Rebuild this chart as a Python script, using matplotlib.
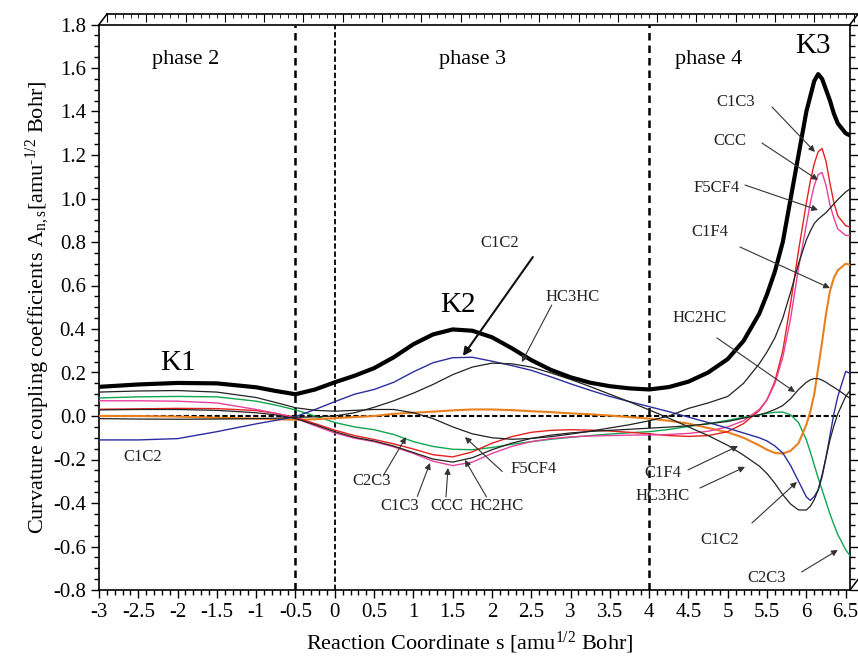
import matplotlib
matplotlib.use('Agg')
import matplotlib.pyplot as plt
from matplotlib.lines import Line2D
from matplotlib.ticker import MultipleLocator, FuncFormatter

plt.rcParams['font.family'] = 'Liberation Serif'
plt.rcParams['mathtext.fontset'] = 'custom'
plt.rcParams['mathtext.rm'] = 'Liberation Serif'
plt.rcParams['mathtext.it'] = 'Liberation Serif:italic'

# reaction coordinate s [amu^1/2 Bohr]
s = [-3, -2.5, -2, -1.5, -1, -0.75, -0.5, -0.25, 0, 0.25, 0.5, 0.75, 1, 1.25,
     1.5, 1.75, 2, 2.25, 2.5, 2.75, 3, 3.25, 3.5, 3.75, 4, 4.25, 4.5, 4.75, 5,
     5.2, 5.4, 5.5, 5.6, 5.7, 5.8, 5.9, 6.0, 6.05, 6.1, 6.15, 6.2, 6.25, 6.3,
     6.35, 6.4, 6.5, 6.56]

# total curvature (thick line, K1 / K2 / K3)
total = [0.134, 0.145, 0.152, 0.150, 0.132, 0.115, 0.100, 0.122, 0.155, 0.185,
         0.220, 0.270, 0.330, 0.375, 0.398, 0.392, 0.362, 0.312, 0.257, 0.212,
         0.178, 0.153, 0.137, 0.127, 0.122, 0.133, 0.158, 0.200, 0.262, 0.345,
         0.470, 0.560, 0.665, 0.800, 1.000, 1.200, 1.400, 1.470, 1.540, 1.572,
         1.550, 1.500, 1.450, 1.390, 1.345, 1.300, 1.289]

c1c2 = [-0.110, -0.110, -0.104, -0.072, -0.036, -0.020, -0.003, 0.030, 0.066,
        0.100, 0.122, 0.155, 0.203, 0.245, 0.268, 0.270, 0.252, 0.232, 0.210,
        0.180, 0.148, 0.118, 0.090, 0.066, 0.043, 0.020, -0.005, -0.030, -0.056,
        -0.078, -0.100, -0.115, -0.138, -0.170, -0.228, -0.300, -0.372, -0.388,
        -0.370, -0.340, -0.280, -0.190, -0.090, 0.010, 0.090, 0.205, 0.195]

hc3hc = [-0.012, -0.014, -0.015, -0.014, -0.012, -0.010, -0.006, -0.004, 0.000,
         0.015, 0.040, 0.070, 0.105, 0.145, 0.190, 0.225, 0.243, 0.240, 0.225,
         0.198, 0.168, 0.135, 0.100, 0.065, 0.028, -0.010, -0.050, -0.090, -0.135,
         -0.180, -0.230, -0.265, -0.310, -0.362, -0.405, -0.432, -0.432, -0.415,
         -0.385, -0.340, -0.270, -0.190, -0.110, -0.045, 0.010, 0.090, 0.120]

f5cf4 = [0.110, 0.115, 0.117, 0.110, 0.085, 0.062, 0.038, 0.026, 0.022, 0.026,
         0.030, 0.030, 0.015, -0.012, -0.050, -0.082, -0.100, -0.107, -0.103,
         -0.095, -0.083, -0.070, -0.055, -0.040, -0.022, 0.000, 0.035, 0.060,
         0.090, 0.150, 0.240, 0.295, 0.360, 0.450, 0.570, 0.700, 0.810, 0.850,
         0.885, 0.905, 0.920, 0.935, 0.955, 0.975, 0.995, 1.030, 1.045]

hc2hc = [0.028, 0.030, 0.030, 0.026, 0.015, 0.005, -0.012, -0.040, -0.072,
         -0.098, -0.115, -0.138, -0.168, -0.198, -0.212, -0.192, -0.155, -0.125,
         -0.103, -0.088, -0.078, -0.071, -0.066, -0.061, -0.056, -0.051, -0.045,
         -0.036, -0.025, -0.010, 0.005, 0.016, 0.030, 0.048, 0.080, 0.122, 0.155,
         0.166, 0.172, 0.172, 0.165, 0.155, 0.143, 0.132, 0.120, 0.095, 0.080]

c1c3 = [0.031, 0.033, 0.035, 0.034, 0.025, 0.012, -0.006, -0.035, -0.065,
        -0.090, -0.108, -0.128, -0.152, -0.178, -0.188, -0.165, -0.125, -0.095,
        -0.075, -0.066, -0.063, -0.065, -0.069, -0.075, -0.082, -0.090, -0.094,
        -0.090, -0.072, -0.035, 0.025, 0.075, 0.160, 0.300, 0.520, 0.760, 0.980,
        1.080, 1.160, 1.215, 1.230, 1.170, 1.070, 0.980, 0.920, 0.875, 0.868]

ccc = [0.070, 0.070, 0.068, 0.060, 0.030, 0.012, -0.010, -0.045, -0.078,
       -0.102, -0.118, -0.142, -0.172, -0.208, -0.228, -0.212, -0.172, -0.140,
       -0.118, -0.104, -0.096, -0.092, -0.090, -0.088, -0.087, -0.085, -0.080,
       -0.070, -0.050, -0.022, 0.030, 0.075, 0.150, 0.270, 0.450, 0.680, 0.880,
       0.980, 1.060, 1.110, 1.120, 1.060, 0.970, 0.910, 0.860, 0.830, 0.830]

c2c3 = [0.083, 0.088, 0.090, 0.088, 0.068, 0.050, 0.028, 0.000, -0.030,
        -0.050, -0.063, -0.085, -0.118, -0.140, -0.153, -0.155, -0.145, -0.130,
        -0.118, -0.107, -0.098, -0.090, -0.083, -0.077, -0.072, -0.062, -0.048,
        -0.035, -0.020, -0.006, 0.006, 0.012, 0.017, 0.018, 0.005, -0.030,
        -0.110, -0.165, -0.225, -0.285, -0.340, -0.395, -0.450, -0.500, -0.545,
        -0.615, -0.645]

c1f4 = [0.000, 0.000, -0.003, -0.008, -0.012, -0.015, -0.017, -0.015, -0.010,
        -0.005, 0.000, 0.010, 0.015, 0.020, 0.026, 0.030, 0.030, 0.027, 0.022,
        0.018, 0.012, 0.008, 0.002, -0.005, -0.012, -0.022, -0.035, -0.055,
        -0.075, -0.100, -0.135, -0.155, -0.170, -0.173, -0.160, -0.125, -0.040,
        0.020, 0.100, 0.220, 0.340, 0.470, 0.575, 0.635, 0.670, 0.700, 0.695]

# (series, colour, width)
curves = [
    (c2c3, '#10a550', 1.0),
    (c1f4, '#e8801e', 1.5),
    (c1c3, '#e62020', 1.0),
    (ccc, '#e8409c', 1.0),
    (c1c2, '#2c2ea0', 1.0),
    (hc3hc, '#222222', 0.9),
    (hc2hc, '#222222', 0.9),
    (f5cf4, '#222222', 0.9),
]

fig = plt.figure(figsize=(8.58, 6.58), dpi=100)
L, B, W, H = 99 / 858, 1 - 590 / 658, 751 / 858, 565.5 / 658
ax = fig.add_axes([L, B, W, H])

for ys, col, lw in curves:
    ax.plot(s, ys, color=col, lw=lw, zorder=3)
ax.plot(s, total, color='k', lw=3.0, zorder=4, solid_capstyle='round')

# zero line and phase borders
ax.hlines(0, -3, 6.43, colors='k', lw=1.5, linestyles=(0, (2.5, 1.2)), zorder=2)
ax.axvline(-0.5, color='k', lw=1.8, ls=(0, (3, 2)), zorder=2)
ax.axvline(0, color='k', lw=1.3, ls=(0, (3, 1.5)), zorder=2)
ax.axvline(4, color='k', lw=1.8, ls=(0, (3, 2)), zorder=2)

ax.set_xlim(-3, 6.555)
ax.set_ylim(-0.8, 1.8)
ax.xaxis.set_major_locator(MultipleLocator(0.5))
ax.xaxis.set_minor_locator(MultipleLocator(0.1))
ax.yaxis.set_major_locator(MultipleLocator(0.2))
ax.yaxis.set_minor_locator(MultipleLocator(0.05))
ax.xaxis.set_major_formatter(FuncFormatter(lambda v, _: f'{v:g}'))
ax.yaxis.set_major_formatter(
    FuncFormatter(lambda v, _: '0.0' if abs(v) < 1e-9 else f'{v:.1f}'))
ax.tick_params(which='both', direction='out', top=False, right=True,
               labelsize=15, width=1)
ax.tick_params(which='major', length=6)
ax.tick_params(which='minor', length=3.5)
for sp in ax.spines.values():
    sp.set_linewidth(1.2)

ax.set_xlabel('Reaction Coordinate s [amu$^{\\mathrm{1/2}}$ Bohr]', fontsize=16)
ax.xaxis.set_label_coords(0.494, -0.07)
ax.set_ylabel('Curvature coupling coefficients A$_{\\mathrm{n,s}}$'
              '[amu$^{\\mathrm{\\text{-}1/2}}$ Bohr]', fontsize=16)
ax.yaxis.set_label_coords(-0.063, 0.5)

# offset frame giving the box its depth
dx, dy = 8 / 858, 10.5 / 658
ax2 = fig.add_axes([L + dx, B + dy, W, H], facecolor='none', zorder=-1)
ax2.set_xlim(ax.get_xlim())
ax2.set_yticks([])
for side in ('left', 'bottom', 'right'):
    ax2.spines[side].set_visible(False)
ax2.spines['top'].set_linewidth(1.2)
ax2.xaxis.set_major_locator(MultipleLocator(0.5))
ax2.xaxis.set_minor_locator(MultipleLocator(0.1))
ax2.xaxis.set_ticks_position('top')
ax2.tick_params(which='both', direction='in', labeltop=False, labelbottom=False)
ax2.tick_params(which='major', length=6)
ax2.tick_params(which='minor', length=3)
for x0, y0 in [(L, B + H), (L + W, B + H), (L + W, B)]:
    fig.add_artist(Line2D([x0, x0 + dx], [y0, y0 + dy],
                          transform=fig.transFigure, color='k', lw=1.1))

# region and peak labels
for txt, x, y in [('phase 2', -1.90, 1.64), ('phase 3', 1.75, 1.64),
                  ('phase 4', 4.75, 1.64)]:
    ax.text(x, y, txt, fontsize=16, ha='center', va='center')
for txt, x, y in [('K1', -1.99, 0.244), ('K2', 1.567, 0.51), ('K3', 6.08, 1.70)]:
    ax.text(x, y, txt, fontsize=21, ha='center', va='center')

# label, text position, arrow tail, arrow tip
notes = [
    ('C1C2', (2.10, 0.795), (2.52, 0.731), (1.63, 0.276)),
    ('HC3HC', (3.02, 0.547), (2.76, 0.510), (2.38, 0.248)),
    ('C2C3', (0.47, -0.30), (0.62, -0.272), (0.906, -0.097)),
    ('C1C3', (0.83, -0.415), (1.05, -0.37), (1.211, -0.216)),
    ('CCC', (1.427, -0.415), (1.415, -0.372), (1.44, -0.239)),
    ('HC2HC', (2.064, -0.415), (1.93, -0.372), (1.656, -0.202)),
    ('F5CF4', (2.534, -0.245), (2.13, -0.255), (1.656, -0.097)),
    ('C1C3', (5.10, 1.444), (5.562, 1.421), (6.109, 1.214)),
    ('CCC', (5.027, 1.264), (5.435, 1.255), (6.148, 1.085)),
    ('F5CF4', (4.86, 1.048), (5.219, 1.062), (6.148, 0.947)),
    ('C1F4', (4.774, 0.846), (5.155, 0.777), (6.30, 0.588)),
    ('HC2HC', (4.646, 0.45), (4.862, 0.359), (5.855, 0.11)),
    ('C1F4', (4.175, -0.262), (4.494, -0.248), (5.13, -0.138)),
    ('HC3HC', (4.175, -0.368), (4.646, -0.331), (5.219, -0.234)),
    ('C1C2', (4.90, -0.570), (5.307, -0.492), (5.88, -0.303)),
    ('C2C3', (5.496, -0.745), (5.94, -0.717), (6.40, -0.616)),
]
for i, (txt, pos, tail, tip) in enumerate(notes):
    ax.text(pos[0], pos[1], txt, fontsize=12, ha='center', va='center',
            color='#222222', zorder=6)
    bold = i == 0
    ax.annotate('', xy=tip, xytext=tail, zorder=6,
                arrowprops=dict(arrowstyle='-|>', color='#111111' if bold else '#333333',
                                lw=1.5 if bold else 0.8,
                                mutation_scale=12 if bold else 9,
                                shrinkA=0, shrinkB=0))
ax.text(-2.45, -0.19, 'C1C2', fontsize=12, ha='center', va='center', color='#222222')

fig.savefig('out.png', dpi=100)
